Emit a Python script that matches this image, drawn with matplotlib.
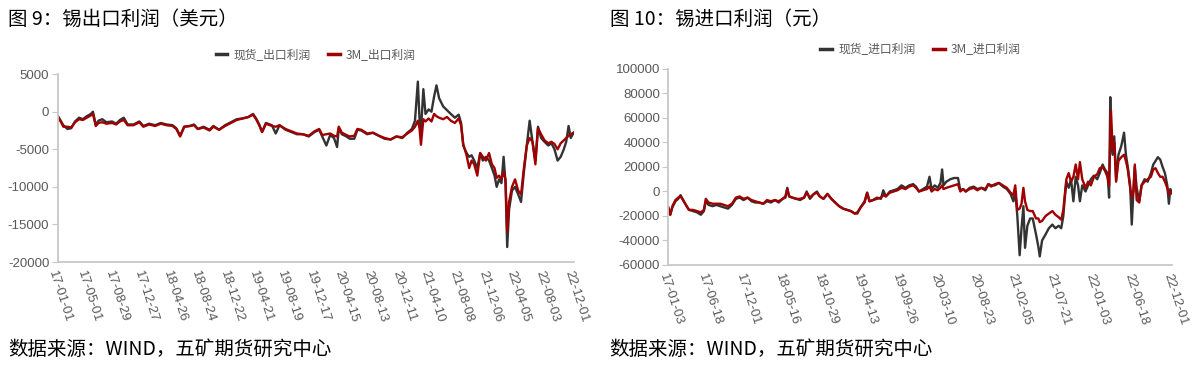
import pandas as pd
import matplotlib
matplotlib.use("Agg")
import matplotlib.pyplot as plt

plt.rcParams['font.family'] = ['Noto Sans CJK SC', 'DejaVu Sans']
plt.rcParams['axes.unicode_minus'] = False

# ---- 图9 锡出口利润（美元）: days since 2017-01-01
exp_days = [0, 13, 24, 41, 57, 73, 90, 106, 122, 139, 148, 160, 171, 187, 204, 228, 245, 261, 277, 293,
            318, 342, 359, 383, 408, 432, 456, 481, 497, 513, 530, 554, 571, 587, 611, 636, 652, 676, 701, 725,
            750, 774, 799, 818, 831, 844, 856, 872, 897, 913, 929, 954, 978, 1002, 1027, 1051, 1076, 1095, 1108, 1125,
            1141, 1157, 1170, 1177, 1190, 1209, 1223, 1242, 1255, 1271, 1296, 1320, 1345, 1369, 1394, 1418, 1443, 1464, 1483, 1496,
            1508, 1515, 1521, 1531, 1540, 1553, 1565, 1576, 1586, 1597, 1614, 1630, 1646, 1663, 1679, 1689, 1698, 1712, 1723, 1733,
            1744, 1757, 1769, 1780, 1793, 1806, 1818, 1829, 1838, 1848, 1858, 1867, 1875, 1882, 1890, 1902, 1915, 1928, 1940, 1952,
            1964, 1976, 1988, 2000, 2011, 2024, 2038, 2054, 2067, 2080, 2093, 2106, 2119, 2129, 2139, 2148, 2160]
exp_spot = [-500, -1200, -1800, -2300, -2200, -1300, -800, -1000, -600, -300, 0, -1800, -1200, -1000, -1400, -1300, -1600, -1100, -800, -1700,
            -1700, -1300, -1900, -1600, -1800, -1500, -1700, -1800, -2200, -3200, -2000, -1900, -1700, -2300, -2000, -2400, -1900, -2400, -1800, -1400,
            -1000, -900, -700, -300, -900, -1700, -2700, -1500, -1800, -2900, -1800, -2400, -2700, -3000, -3000, -3300, -2700, -2400, -3300, -4500,
            -3100, -3500, -4700, -2200, -3000, -3300, -3600, -3600, -2400, -2500, -3000, -2800, -3200, -3600, -3700, -3300, -3500, -2800, -2300, -1200,
            4000, -1000, -2500, 3000, -300, 300, 0, 2000, 3500, 1800, 700, 200, -300, -800, -400, -1500, -4500, -5500, -6000, -5800,
            -6500, -7500, -5500, -6500, -6000, -6500, -7500, -8500, -10000, -9000, -9500, -6000, -9500, -18000, -13000, -10500, -10000, -11000, -12000, -8000,
            -4500, -1200, -4000, -6500, -2000, -3500, -4000, -4500, -4200, -5000, -6500, -6000, -5000, -4000, -1900, -3500, -2800]
exp_3m = [-700, -1300, -2000, -2000, -2100, -1400, -1000, -1100, -800, -500, -300, -1900, -1500, -1400, -1600, -1500, -1700, -1300, -1100, -1800,
          -1800, -1400, -2000, -1700, -1900, -1600, -1800, -1900, -2300, -3300, -2000, -1900, -1800, -2300, -2100, -2500, -2000, -2400, -1900, -1500,
          -1100, -900, -700, -400, -1000, -1800, -2700, -1600, -1900, -2000, -1800, -2300, -2600, -2900, -3000, -3200, -2600, -2300, -3100, -3000,
          -2900, -3200, -3300, -2000, -2800, -3100, -3300, -3200, -2300, -2400, -2900, -2800, -3200, -3500, -3700, -3300, -3400, -2900, -2500, -2000,
          -1200, -2200, -4400, -1000, -1300, -900, -1300, -300, -600, -800, -1000, -700, -1200, -1500, -900, -1800, -4300, -5800, -7500, -6500,
          -7000, -8500, -5500, -6000, -6500, -5500, -7000, -7500, -8800, -8500, -9000, -8000, -9000, -16000, -12000, -10000, -9000, -10500, -11000, -7500,
          -4500, -3500, -4000, -7000, -2200, -3000, -3800, -4200, -4000, -4300, -5000, -4200, -3800, -3500, -3200, -3000, -2800]

# ---- 图10 锡进口利润（元）: days since 2017-01-03
imp_days = [0, 8, 17, 30, 42, 52, 63, 75, 88, 105, 122, 139, 152, 160, 172, 189, 205, 222, 239, 255,
            272, 289, 305, 322, 339, 356, 372, 389, 406, 422, 439, 456, 472, 489, 501, 509, 517, 531, 547, 564,
            581, 592, 606, 623, 636, 648, 664, 681, 698, 714, 731, 748, 765, 781, 798, 809, 823, 840, 851, 861,
            876, 893, 910, 920, 931, 948, 964, 981, 998, 1015, 1031, 1048, 1060, 1073, 1090, 1107, 1118, 1127, 1140, 1153,
            1165, 1172, 1178, 1190, 1207, 1223, 1240, 1250, 1262, 1273, 1290, 1307, 1323, 1340, 1357, 1370, 1382, 1398, 1415, 1432,
            1449, 1465, 1477, 1485, 1494, 1504, 1512, 1520, 1527, 1537, 1549, 1560, 1574, 1584, 1590, 1600, 1615, 1629, 1644, 1657,
            1671, 1682, 1691, 1696, 1704, 1714, 1724, 1734, 1744, 1754, 1762, 1772, 1786, 1797, 1809, 1822, 1836, 1847, 1859, 1869,
            1880, 1887, 1892, 1895, 1902, 1909, 1917, 1927, 1939, 1951, 1959, 1967, 1977, 1984, 1991, 1997, 2005, 2016, 2026, 2039,
            2052, 2066, 2076, 2086, 2096, 2106, 2116, 2126, 2136, 2143, 2149, 2158]
imp_spot = [-13000, -19000, -13000, -8000, -6000, -3000, -7000, -11000, -15000, -16000, -17000, -19000, -16000, -8000, -11000, -12000, -11000, -12000, -13000, -14000,
            -11000, -6000, -5000, -7000, -5000, -8000, -9000, -9000, -10000, -8000, -9000, -7000, -9000, -6000, -5000, 3000, -4000, -5000, -6000, -7000,
            -5000, 0, -6000, -2000, 0, -4000, -6000, -2000, -6000, -9000, -12000, -14000, -15000, -16000, -18000, -17000, -13000, -8000, -1000, -8000,
            -7000, -5000, -6000, 1000, -4000, 0, 1000, 2000, 5000, 3000, 5000, 6000, 4000, 0, 2000, 4000, 12000, 2000, 5000, 3000,
            7000, 18000, 5000, 8000, 10000, 11000, 11000, 1000, 2000, 0, 3000, 4000, 2000, 3000, 1000, 6000, 5000, 5000, 7000, 4000,
            2000, -2000, -8000, 0, -20000, -52000, -30000, -12000, -46000, -28000, -22000, -22000, -35000, -45000, -53000, -40000, -35000, -30000, -27000, -30000,
            -28000, -30000, -20000, -8000, 8000, 3000, 10000, -8000, 12000, 5000, -8000, 5000, 0, 5000, 10000, 13000, 10000, 15000, 22000, 18000,
            15000, -5000, 77000, 40000, 30000, 45000, 10000, 30000, 37000, 48000, 30000, 20000, 5000, -27000, 0, 20000, 3000, -8000, 5000, 10000,
            8000, 15000, 22000, 25000, 28000, 26000, 20000, 15000, 5000, -10000, 2000, -1000]
imp_3m = [-14000, -19000, -12000, -7000, -5000, -4000, -7000, -11000, -15000, -15000, -16000, -17000, -15000, -6000, -9000, -10000, -10000, -10000, -11000, -12000,
          -10000, -5000, -4000, -6000, -5000, -7000, -8000, -9000, -10000, -7000, -8000, -7000, -8000, -6000, -4000, 2000, -4000, -5000, -6000, -6000,
          -5000, -1000, -5000, -2000, -1000, -4000, -6000, -2000, -6000, -9000, -12000, -14000, -15000, -16000, -18000, -18000, -13000, -9000, -1000, -8000,
          -7000, -6000, -5000, -3000, -4000, -1000, 0, 1000, 3000, 2000, 4000, 5000, 3000, 0, 1000, 2000, 4000, 0, 2000, 1000,
          3000, 5000, 2000, 3000, 4000, 5000, 6000, 0, 2000, 0, 2000, 3000, 1000, 3000, 2000, 6000, 4000, 6000, 7000, 5000,
          3000, -1000, -3000, 5000, -15000, -14000, -10000, 3000, -8000, -15000, -16000, -16000, -22000, -22000, -25000, -24000, -20000, -18000, -16000, -19000,
          -21000, -23000, -15000, -5000, 10000, 15000, 8000, 12000, 22000, 10000, 24000, 10000, 3000, 8000, 5000, 12000, 14000, 19000, 20000, 17000,
          12000, 5000, 45000, 66000, 35000, 40000, 8000, 25000, 28000, 30000, 25000, 18000, 3000, -5000, 0, 22000, -7000, -9000, 5000, 8000,
          10000, 12000, 18000, 19000, 15000, 12000, 12000, 8000, 3000, -2000, 0, -2000]

exp_ticks = pd.date_range('2017-01-01', '2022-12-01', freq='120D')
imp_ticks = pd.date_range('2017-01-03', '2022-12-01', freq='166D')

BLACK = '#333333'
RED = '#a00000'
GRAY = '#595959'
AXIS = '#c8c8c8'

fig = plt.figure(figsize=(12, 3.65), dpi=100)


def panel(rect, start, days, spot, m3, names, ticks, ylim, ystep):
    ax = fig.add_axes(rect)
    x = pd.Timestamp(start) + pd.to_timedelta(days, unit='D')
    ax.plot(x, spot, color=BLACK, lw=1.7, label=names[0])
    ax.plot(x, m3, color=RED, lw=1.7, label=names[1])
    ax.set_xlim(ticks[0], ticks[-1])
    ax.set_ylim(*ylim)
    ax.set_yticks(range(ylim[0], ylim[1] + 1, ystep))
    ax.set_xticks(ticks)
    ax.set_xticklabels([t.strftime('%y-%m-%d') for t in ticks], rotation=-72,
                       ha='left', va='top', rotation_mode='anchor')
    for s in ['top', 'right']:
        ax.spines[s].set_visible(False)
    for s in ['left', 'bottom']:
        ax.spines[s].set_color(AXIS)
        ax.spines[s].set_linewidth(1.3)
    ax.tick_params(axis='both', colors=AXIS, labelcolor=GRAY, labelsize=9.5)
    ax.tick_params(axis='y', length=4, pad=2)
    ax.tick_params(axis='x', length=0, pad=5)
    for lab in ax.get_xticklabels() + ax.get_yticklabels():
        lab.set_family(['Liberation Sans', 'DejaVu Sans'])
    leg = ax.legend(loc='lower center', bbox_to_anchor=(0.5, 1.01), ncol=2, frameon=False,
                    fontsize=8.5, handlelength=1.0, columnspacing=1.5, handletextpad=0.5)
    for t in leg.get_texts():
        t.set_color(GRAY)
    for h in leg.get_lines():
        h.set_linewidth(2.5)
    return ax


panel([0.048, 0.282, 0.43, 0.515], '2017-01-01', exp_days, exp_spot, exp_3m,
      ['现货_出口利润', '3M_出口利润'], exp_ticks, (-20000, 5000), 5000)
panel([0.557, 0.274, 0.42, 0.537], '2017-01-03', imp_days, imp_spot, imp_3m,
      ['现货_进口利润', '3M_进口利润'], imp_ticks, (-60000, 100000), 20000)

fig.text(0.007, 0.948, '图 9：锡出口利润（美元）', fontsize=14, va='center', ha='left')
fig.text(0.508, 0.948, '图 10：锡进口利润（元）', fontsize=14, va='center', ha='left')
fig.text(0.007, 0.042, '数据来源：WIND，五矿期货研究中心', fontsize=14, va='center', ha='left')
fig.text(0.508, 0.042, '数据来源：WIND，五矿期货研究中心', fontsize=14, va='center', ha='left')

fig.savefig('out.png', dpi=100)
